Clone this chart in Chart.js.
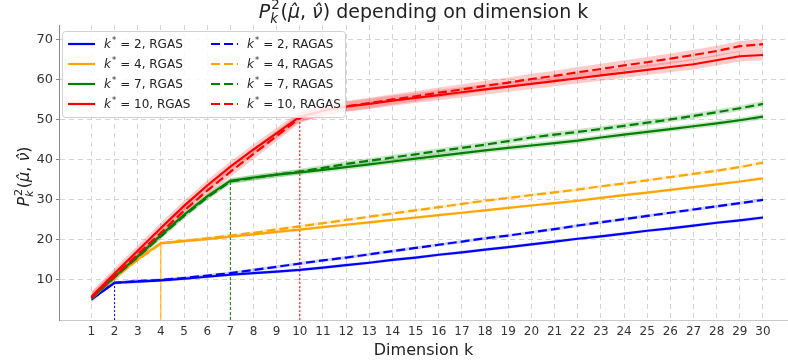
<!DOCTYPE html>
<html>
<head>
<meta charset="utf-8">
<script src="https://cdn.jsdelivr.net/npm/chart.js@4"></script>
<style>
  html, body { margin: 0; padding: 0; background: #fff; }
  #wrap { width: 788px; height: 362px; position: relative; }
</style>
</head>
<body>
<div id="wrap"><canvas id="chart"></canvas></div>
<script>
const dims = [1, 2, 3, 4, 5, 6, 7, 8, 9, 10, 11, 12, 13, 14, 15, 16, 17, 18, 19, 20, 21, 22, 23, 24, 25, 26, 27, 28, 29, 30];
const yTicks = [10, 20, 30, 40, 50, 60, 70];
const kStars = [2, 4, 7, 10];

const rgas2 = [5.2, 9.3, 9.6, 9.9, 10.3, 10.8, 11.3, 11.7, 12.1, 12.5, 13.1, 13.7, 14.3, 15.0, 15.6, 16.3, 16.9, 17.6, 18.2, 18.9, 19.6, 20.3, 20.9, 21.6, 22.3, 22.9, 23.6, 24.3, 24.9, 25.6];
const ragas2 = [5.2, 9.3, 9.7, 10.0, 10.5, 11.1, 11.7, 12.5, 13.3, 14.1, 14.9, 15.6, 16.4, 17.2, 18.0, 18.8, 19.6, 20.4, 21.1, 21.9, 22.7, 23.6, 24.4, 25.2, 26.0, 26.8, 27.6, 28.4, 29.2, 30.0];
const rgas4 = [5.4, 10.6, 15.2, 19.2, 19.7, 20.2, 20.8, 21.4, 22.0, 22.6, 23.2, 23.8, 24.4, 25.0, 25.6, 26.2, 26.8, 27.4, 28.0, 28.6, 29.2, 29.8, 30.5, 31.2, 31.8, 32.5, 33.2, 33.9, 34.6, 35.4];
const ragas4 = [5.4, 10.5, 15.0, 19.1, 19.8, 20.4, 21.1, 21.8, 22.6, 23.4, 24.2, 25.0, 25.8, 26.6, 27.4, 28.2, 29.0, 29.8, 30.5, 31.2, 31.9, 32.6, 33.4, 34.1, 34.9, 35.7, 36.5, 37.3, 38.2, 39.3];
const rgas7 = [5.4, 10.8, 15.9, 21.2, 26.3, 30.9, 34.8, 35.6, 36.3, 36.9, 37.5, 38.2, 38.9, 39.6, 40.3, 41.0, 41.7, 42.4, 43.0, 43.6, 44.2, 44.8, 45.6, 46.3, 47.0, 47.7, 48.4, 49.1, 49.9, 50.8];
const ragas7 = [5.4, 10.7, 15.7, 20.9, 26.0, 30.6, 34.6, 35.5, 36.3, 37.1, 38.0, 39.0, 39.8, 40.6, 41.4, 42.2, 43.0, 43.8, 44.7, 45.6, 46.3, 47.0, 47.7, 48.5, 49.3, 50.1, 51.0, 51.9, 52.9, 54.0];
const rgas10 = [5.8, 11.6, 17.3, 23.0, 28.5, 33.6, 38.3, 42.6, 46.7, 50.8, 52.3, 53.3, 54.0, 54.8, 55.5, 56.2, 56.9, 57.6, 58.3, 59.0, 59.7, 60.4, 61.1, 61.8, 62.5, 63.2, 63.9, 64.9, 65.9, 66.2];
const ragas10 = [5.6, 11.0, 16.4, 21.8, 27.3, 32.3, 37.0, 41.5, 46.0, 50.5, 52.3, 53.4, 54.2, 55.1, 55.9, 56.8, 57.6, 58.5, 59.3, 60.2, 61.0, 61.9, 62.7, 63.6, 64.4, 65.3, 66.2, 67.2, 68.4, 68.9];

// half width of the shaded band around each curve
const bandWidth = [0.4, 0.4, 0.7, 1.3];

const colors = ['#0000ff', '#ffa500', '#008000', '#ff0000'];
const bandColors = ['rgba(0,0,255,0.18)', 'rgba(255,165,0,0.18)', 'rgba(0,128,0,0.2)', 'rgba(255,0,0,0.2)'];
const markerDash = [[2, 2], [], [3, 2], [2, 2]];

const rgasSeries = [rgas2, rgas4, rgas7, rgas10];
const ragasSeries = [ragas2, ragas4, ragas7, ragas10];

const FONT = '"DejaVu Sans", sans-serif';

function pts(values) {
    return dims.map((d, i) => ({ x: d, y: values[i] }));
}

function buildDatasets() {
    const sets = [];
    kStars.forEach((k, s) => {
        [rgasSeries[s], ragasSeries[s]].forEach(vals => {
            const w = bandWidth[s];
            sets.push({ data: pts(vals.map(v => v - w)), borderWidth: 0, pointRadius: 0, fill: false, isBand: true });
            sets.push({ data: pts(vals.map(v => v + w)), borderWidth: 0, pointRadius: 0, fill: '-1',
                backgroundColor: bandColors[s], isBand: true });
        });
    });
    kStars.forEach((k, s) => {
        sets.push({
            data: [{ x: k, y: 0 }, { x: k, y: rgasSeries[s][k - 1] }],
            borderColor: colors[s], borderWidth: 1, borderDash: markerDash[s], pointRadius: 0, fill: false
        });
    });
    kStars.forEach((k, s) => {
        sets.push({ label: 'RGAS', kStar: k, data: pts(rgasSeries[s]), borderColor: colors[s],
            borderWidth: 2.2, pointRadius: 0, fill: false, legendCol: 0, legendRow: s });
        sets.push({ label: 'RAGAS', kStar: k, data: pts(ragasSeries[s]), borderColor: colors[s],
            borderWidth: 2.2, borderDash: [9, 4], pointRadius: 0, fill: false, legendCol: 1, legendRow: s });
    });
    // first pushed is drawn first (behind)
    sets.forEach((d, i) => { d.order = sets.length - i; d.tension = 0; });
    return sets;
}

// draws a run of text pieces, with italics and stacked sub/superscripts
function drawRich(ctx, parts, x, y, size, align) {
    const font = (sz, it) => (it ? 'italic ' : '') + sz + 'px ' + FONT;
    const small = size * 0.7;
    const widths = parts.map(p => {
        if (p.t === undefined) {
            ctx.font = font(small, true);
            const a = ctx.measureText(p.sub || '').width;
            ctx.font = font(small, false);
            const b = ctx.measureText(p.sup || '').width;
            return Math.max(a, b) + size * 0.1;
        }
        ctx.font = font(size, p.it);
        return ctx.measureText(p.t).width;
    });
    const total = widths.reduce((a, b) => a + b, 0);
    let cx = align === 'left' ? x : x - total / 2;
    ctx.textBaseline = 'middle';
    ctx.textAlign = 'left';
    parts.forEach((p, i) => {
        if (p.t === undefined) {
            if (p.sup) { ctx.font = font(small, false); ctx.fillText(p.sup, cx + 1, y - size * 0.38); }
            if (p.sub) { ctx.font = font(small, true); ctx.fillText(p.sub, cx, y + size * 0.32); }
        } else {
            ctx.font = font(size, p.it);
            ctx.fillText(p.t, cx, y);
        }
        cx += widths[i];
    });
}

const mathLabel = [
    { t: 'P', it: true }, { sub: 'k', sup: '2' }, { t: '(' }, { t: 'μ\u0302', it: true },
    { t: ', ' }, { t: 'ν\u0302', it: true }, { t: ')' }
];

const textPlugin = {
    id: 'texts',
    afterDraw(chart) {
        const ctx = chart.ctx;
        const area = chart.chartArea;
        ctx.save();
        ctx.fillStyle = '#222';
        drawRich(ctx, mathLabel.concat([{ t: ' depending on dimension k' }]),
            (area.left + area.right) / 2, 13, 19, 'center');

        ctx.translate(25, (area.top + area.bottom) / 2 + 4);
        ctx.rotate(-Math.PI / 2);
        drawRich(ctx, mathLabel, 0, 0, 16, 'center');
        ctx.restore();

        // legend box
        const box = { x: 62, y: 31, w: 283, h: 86 };
        ctx.save();
        ctx.fillStyle = 'rgba(255,255,255,0.85)';
        ctx.strokeStyle = '#d0d0d0';
        ctx.lineWidth = 1;
        ctx.beginPath();
        ctx.roundRect(box.x + 0.5, box.y + 0.5, box.w, box.h, 3);
        ctx.fill();
        ctx.stroke();
        const colX = [68, 211];
        chart.data.datasets.forEach(ds => {
            if (ds.legendCol === undefined) return;
            const lx = colX[ds.legendCol];
            const ly = 44 + ds.legendRow * 20;
            ctx.strokeStyle = ds.borderColor;
            ctx.lineWidth = 2.2;
            ctx.setLineDash(ds.borderDash || []);
            ctx.beginPath();
            ctx.moveTo(lx, ly);
            ctx.lineTo(lx + 27, ly);
            ctx.stroke();
            ctx.setLineDash([]);
            ctx.fillStyle = '#222';
            drawRich(ctx, [{ t: 'k', it: true }, { sup: '*' }, { t: ' = ' + ds.kStar + ', ' + ds.label }],
                lx + 36, ly + 1, 12, 'left');
        });
        ctx.restore();
    }
};

const chart = new Chart(document.getElementById('chart'), {
    type: 'line',
    data: { datasets: buildDatasets() },
    plugins: [textPlugin],
    options: {
        responsive: true,
        maintainAspectRatio: false,
        animation: false,
        layout: { padding: { top: 25, right: 0, left: 0, bottom: 0 } },
        plugins: {
            legend: { display: false },
            tooltip: { enabled: false },
            title: { display: false }
        },
        scales: {
            x: {
                type: 'linear',
                min: -0.4,
                max: 31.08,
                afterBuildTicks: axis => { axis.ticks = dims.map(v => ({ value: v })); },
                afterFit: scale => { scale.height = 42; },
                ticks: { padding: 5, color: '#333', font: { family: FONT, size: 12 } },
                grid: { color: '#d4d4d4', lineWidth: 1, drawTicks: false },
                border: { display: true, color: '#c8c8c8', dash: [5, 4] },
                title: {
                    display: true, text: 'Dimension k', color: '#222',
                    font: { family: FONT, size: 16 }, padding: { top: 0, bottom: 2 }
                }
            },
            y: {
                min: 0,
                max: 73.7,
                afterBuildTicks: axis => { axis.ticks = yTicks.map(v => ({ value: v })); },
                afterFit: scale => { scale.width = 59; },
                ticks: { padding: 3, color: '#333', font: { family: FONT, size: 13 } },
                grid: { color: '#d4d4d4', lineWidth: 1, tickLength: 3, tickColor: '#888', tickBorderDash: [] },
                border: { display: true, color: '#888', width: 1, dash: [5, 4] }
            }
        }
    }
});
</script>
</body>
</html>
